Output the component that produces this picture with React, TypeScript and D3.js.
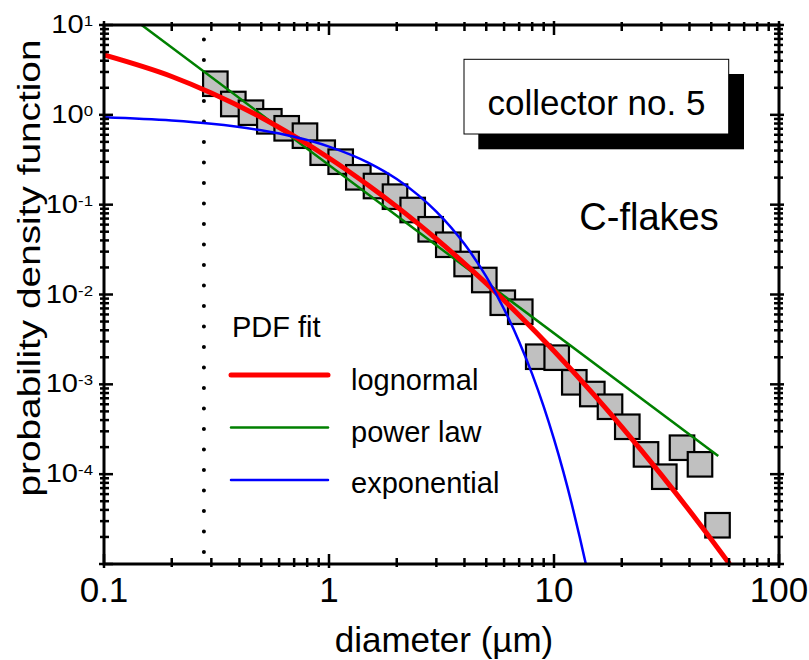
import React from 'react';
import * as d3 from 'd3';

// measured histogram (gray squares)
const diameters = [0.3125, 0.3756, 0.45, 0.543, 0.6486, 0.782, 0.9376, 1.127, 1.35, 1.618, 1.965, 2.355, 2.831, 3.39, 4.09, 4.9, 5.92, 7.08, 8.51, 10.28, 12.31, 14.8, 17.74, 21.17, 25.64, 30.92, 37.06, 44.55, 53.3];
const pdfValues = [2.22, 1.32, 1.056, 0.847, 0.708, 0.586, 0.379, 0.3008, 0.2017, 0.1613, 0.1227, 0.0872, 0.0532, 0.0358, 0.02185, 0.0145, 0.0081, 0.00643, 0.00203, 0.00198, 0.001053, 0.00078, 0.000563, 0.000337, 0.000166, 0.0000937, 0.000197, 0.0001287, 0.000027];

// fit curves
const lognormalD = [0.1, 0.2, 0.3, 0.5, 0.7, 1, 1.5, 2, 3, 5, 7, 10, 15, 20, 30, 45, 60.3];
const lognormalF = [4.64, 2.67, 1.75, 0.934, 0.578, 0.331, 0.1634, 0.0951, 0.04157, 0.01328, 0.00588, 0.002349, 0.000774, 0.000337, 0.0000983, 0.0000267, 0.00001];
const powerD = [0.147, 53.7];
const powerF = [10, 0.000159];
const expD = [0.1, 0.2, 0.3, 0.5, 0.7, 1, 1.5, 2, 2.5, 3, 4, 5, 6, 7, 8, 9, 10, 11, 12, 13, 13.85];
const expF = [0.938, 0.863, 0.794, 0.672, 0.569, 0.443, 0.292, 0.1927, 0.127, 0.0837, 0.0364, 0.01581, 0.00687, 0.002987, 0.001298, 0.000564, 0.000245, 0.0001066, 0.0000463, 0.0000201, 0.00001];

const cutoffDiameter = 0.278;

const xTickValues = [0.1, 1, 10, 100];
const xTickLabels = ['0.1', '1', '10', '100'];
const yTickExponents = [1, 0, -1, -2, -3, -4];
const xDecades = [0.1, 1, 10];
const yDecades = [0.00001, 0.0001, 0.001, 0.01, 0.1, 1];
const minorMultipliers = [2, 3, 4, 5, 6, 7, 8, 9];

const legendItems = ['lognormal', 'power law', 'exponential'];
const legendColors = ['#ff0000', '#008000', '#0000ff'];
const legendWidths = [5, 2.5, 2.5];

const FONT = "'Liberation Sans', Arial, sans-serif";

export default function App() {
  const L = 104, R = 779, T = 25, B = 564;
  const x = d3.scaleLog().domain([0.1, 100]).range([L, R]);
  const y = d3.scaleLog().domain([1e-5, 10]).range([B, T]);

  const mk = (ds: number[], fs: number[]) => ds.map((d, i) => [d, fs[i]] as [number, number]);
  const smooth = d3.line<[number, number]>().x(p => x(p[0])).y(p => y(p[1])).curve(d3.curveMonotoneX);
  const straight = d3.line<[number, number]>().x(p => x(p[0])).y(p => y(p[1]));

  const xMinor: number[] = [];
  xDecades.forEach(dec => minorMultipliers.forEach(m => xMinor.push(dec * m)));
  const yMinor: number[] = [];
  yDecades.forEach(dec => minorMultipliers.forEach(m => yMinor.push(dec * m)));
  const yMajor = [1e-5, 1e-4, 1e-3, 1e-2, 1e-1, 1, 10];

  const sq = 24.5;

  return (
    <svg width={809} height={660} style={{ position: 'absolute', left: 0, top: 0, background: '#fff' }} fontFamily={FONT}>
      <defs>
        <clipPath id="plot">
          <rect x={L} y={T} width={R - L} height={B - T} />
        </clipPath>
      </defs>
      <rect x={0} y={0} width={809} height={660} fill="#fff" />

      {/* dotted cutoff line */}
      <line x1={x(cutoffDiameter)} x2={x(cutoffDiameter)} y1={39.5} y2={B} stroke="#000" strokeWidth={4}
        strokeDasharray="0 20.5" strokeLinecap="round" />

      {/* data squares */}
      <g>
        {diameters.map((d, i) => (
          <rect key={i} x={x(d) - sq / 2} y={y(pdfValues[i]) - sq / 2} width={sq} height={sq}
            fill="#c0c0c0" stroke="#000" strokeWidth={2.2} />
        ))}
      </g>

      {/* fits */}
      <g clipPath="url(#plot)" fill="none">
        <path d={straight(mk(powerD, powerF)) || ''} stroke="#008000" strokeWidth={2.5} />
        <path d={smooth(mk(lognormalD, lognormalF)) || ''} stroke="#ff0000" strokeWidth={5} />
        <path d={smooth(mk(expD, expF)) || ''} stroke="#0000ff" strokeWidth={2.5} />
      </g>

      {/* frame */}
      <rect x={L} y={T} width={R - L} height={B - T} fill="none" stroke="#000" strokeWidth={3} />

      {/* ticks */}
      <g stroke="#000" strokeWidth={2.5}>
        {xMinor.map((v, i) => (
          <g key={'xm' + i}>
            <line x1={x(v)} x2={x(v)} y1={B - 6} y2={B + 3} />
            <line x1={x(v)} x2={x(v)} y1={T - 3} y2={T + 6} />
          </g>
        ))}
        {xTickValues.map((v, i) => (
          <g key={'xM' + i}>
            <line x1={x(v)} x2={x(v)} y1={B - 10} y2={B + 4} />
            <line x1={x(v)} x2={x(v)} y1={T - 4} y2={T + 10} />
          </g>
        ))}
        {yMinor.map((v, i) => (
          <g key={'ym' + i}>
            <line x1={L - 4} x2={L + 5} y1={y(v)} y2={y(v)} />
            <line x1={R - 5} x2={R + 4} y1={y(v)} y2={y(v)} />
          </g>
        ))}
        {yMajor.map((v, i) => (
          <g key={'yM' + i}>
            <line x1={L - 5} x2={L + 9} y1={y(v)} y2={y(v)} />
            <line x1={R - 9} x2={R + 5} y1={y(v)} y2={y(v)} />
          </g>
        ))}
      </g>

      {/* x tick labels */}
      {xTickValues.map((v, i) => (
        <text key={'xl' + i} x={x(v)} y={602} fontSize={35} textAnchor="middle" fill="#000">{xTickLabels[i]}</text>
      ))}

      {/* y tick labels */}
      {yTickExponents.map((e, i) => (
        <g key={'yl' + i} transform={`translate(93,${y(Math.pow(10, e)) + 8}) scale(1.12,1)`}>
          <text textAnchor="end" fontSize={26} fill="#000">10<tspan fontSize={15} dy={-7}>{String(e)}</tspan></text>
        </g>
      ))}

      {/* axis titles */}
      <text x={444} y={652} fontSize={35} textAnchor="middle" fill="#000">diameter (µm)</text>
      <text transform="translate(40,268) rotate(-90)" fontSize={32} textAnchor="middle" fill="#000"
        textLength={457} lengthAdjust="spacingAndGlyphs">probability density function</text>

      {/* collector box */}
      <rect x={478.3} y={74} width={265.7} height={75.3} fill="#000" />
      <rect x={464} y={59.3} width={264.7} height={74.7} fill="#fff" stroke="#000" strokeWidth={1} />
      <text x={596.5} y={115} fontSize={35} textAnchor="middle" fill="#000">collector no. 5</text>

      <text x={649} y={230} fontSize={38} textAnchor="middle" fill="#000">C-flakes</text>

      {/* legend */}
      <text x={232} y={337} fontSize={29} fill="#000">PDF fit</text>
      {legendItems.map((name, i) => (
        <g key={'lg' + i}>
          <line x1={231} x2={328} y1={375 + i * 52.5} y2={375 + i * 52.5} stroke={legendColors[i]}
            strokeWidth={legendWidths[i]} strokeLinecap="round" />
          <text x={351} y={390 + i * 51.7} fontSize={29} fill="#000">{name}</text>
        </g>
      ))}
    </svg>
  );
}
